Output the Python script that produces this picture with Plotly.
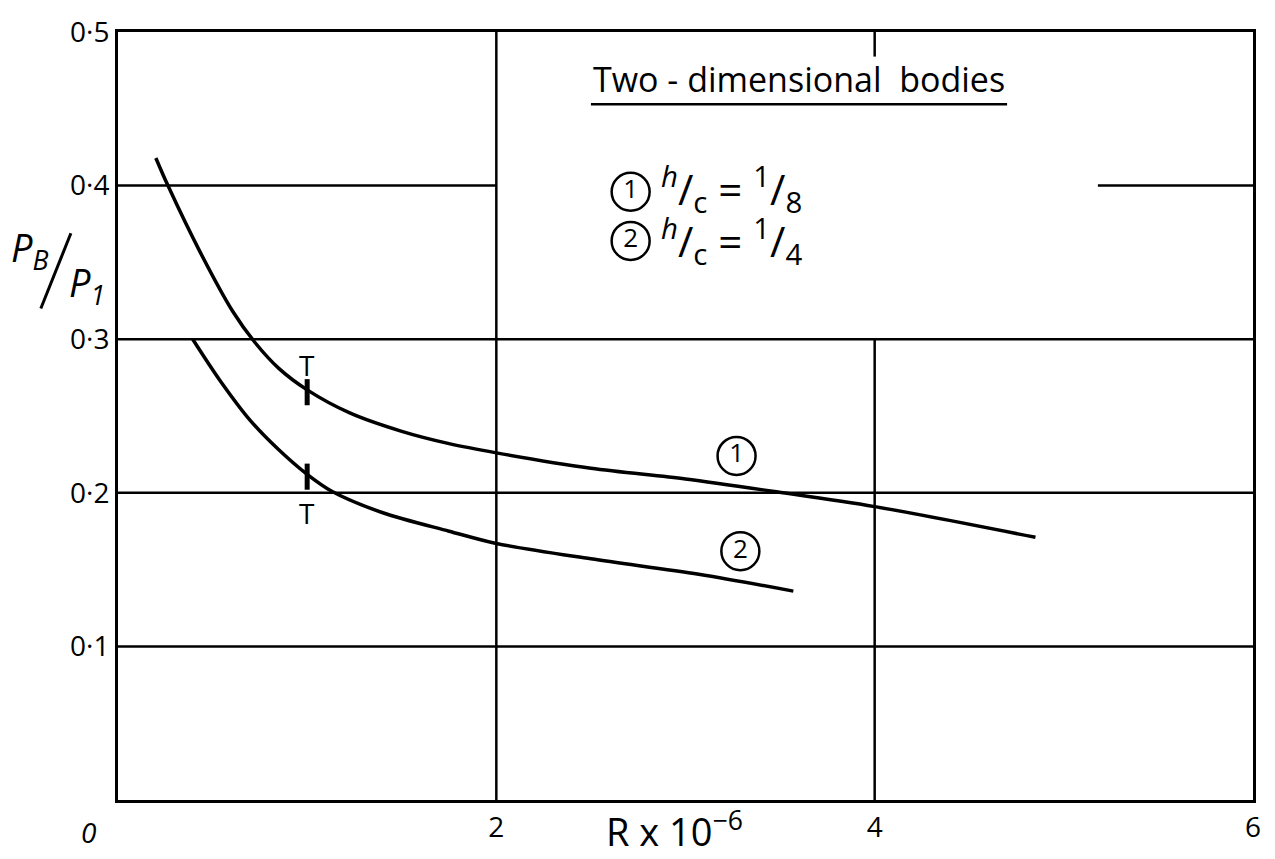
import plotly.graph_objects as go

# Base pressure ratio against Reynolds number, two-dimensional bodies
curve1_R = [0.20, 0.264, 0.433, 0.607, 0.723, 0.85, 1.0, 1.225, 1.5, 1.75, 2.0, 2.5, 3.0, 3.46, 4.0, 4.85]
curve1_p = [0.418, 0.400, 0.357, 0.318, 0.298, 0.281, 0.267, 0.252, 0.240, 0.232, 0.226, 0.216, 0.209, 0.201, 0.191, 0.171]

curve2_R = [0.395, 0.54, 0.70, 0.85, 1.0, 1.13, 1.40, 1.75, 2.0, 2.5, 3.07, 3.57]
curve2_p = [0.300, 0.273, 0.247, 0.228, 0.212, 0.201, 0.187, 0.175, 0.167, 0.157, 0.147, 0.136]

# transition marks (T) on each curve
transition_R = [1.0, 1.0]
transition_p = [0.267, 0.212]

x_ticks = [2, 4, 6]
x_tick_text = ["2", "4", "6"]
y_ticks = [0.1, 0.2, 0.3, 0.4, 0.5]
y_tick_text = ["0·1", "0·2", "0·3", "0·4", "0·5"]

FONT = "Open Sans"
INK = "black"

fig = go.Figure()

# grid lines (some are broken where the key text sits)
grid_segments = [
    ([0, 6], [0.1, 0.1]),
    ([0, 6], [0.2, 0.2]),
    ([0, 6], [0.3, 0.3]),
    ([0, 2], [0.4, 0.4]),
    ([5.18, 6], [0.4, 0.4]),
    ([2, 2], [0, 0.5]),
    ([4, 4], [0, 0.3]),
    ([4, 4], [0.484, 0.5]),
]
for gx, gy in grid_segments:
    fig.add_trace(go.Scatter(x=gx, y=gy, mode="lines",
                             line=dict(color=INK, width=2.5),
                             hoverinfo="skip", showlegend=False))

for xs, ys in [(curve1_R, curve1_p), (curve2_R, curve2_p)]:
    fig.add_trace(go.Scatter(x=xs, y=ys, mode="lines",
                             line=dict(color=INK, width=3.5, shape="spline", smoothing=0.9),
                             showlegend=False))

# short bars marking transition
for tx, ty in zip(transition_R, transition_p):
    fig.add_trace(go.Scatter(x=[tx, tx], y=[ty - 0.010, ty + 0.007], mode="lines",
                             line=dict(color=INK, width=5),
                             showlegend=False))

fig.add_annotation(x=transition_R[0], y=transition_p[0] + 0.016, text="T",
                   showarrow=False, font=dict(family=FONT, size=28, color=INK))
fig.add_annotation(x=transition_R[1], y=transition_p[1] - 0.025, text="T",
                   showarrow=False, font=dict(family=FONT, size=28, color=INK))

# circled curve numbers
circle_R = [3.27, 3.29, 2.71, 2.71]
circle_p = [0.224, 0.162, 0.396, 0.364]
circle_txt = ["1", "2", "1", "2"]
fig.add_trace(go.Scatter(x=circle_R, y=circle_p, mode="markers+text", text=circle_txt,
                         textposition="middle center",
                         textfont=dict(family=FONT, size=26, color=INK),
                         marker=dict(symbol="circle-open", size=38, color=INK, line=dict(width=2.5)),
                         showlegend=False))

# key
fig.add_annotation(x=3.6, y=0.4696, text="Two - dimensional&nbsp;&nbsp;bodies",
                   showarrow=False, font=dict(family=FONT, size=34, color=INK))
fig.add_shape(type="line", x0=2.5, x1=4.70, y0=0.453, y1=0.453, line=dict(color=INK, width=2.5))
fig.add_annotation(x=2.86, y=0.398, xanchor="left",
                   text="<sup><i>h</i></sup>/<sub>c</sub> = <sup>1</sup>/<sub>8</sub>",
                   showarrow=False, font=dict(family=FONT, size=42, color=INK))
fig.add_annotation(x=2.86, y=0.364, xanchor="left",
                   text="<sup><i>h</i></sup>/<sub>c</sub> = <sup>1</sup>/<sub>4</sub>",
                   showarrow=False, font=dict(family=FONT, size=42, color=INK))

# y-axis title: P_B / P_1 with a long slash
fig.add_annotation(xref="paper", yref="paper", x=-0.096, y=0.757, text="<i>P<sub>B</sub></i>",
                   showarrow=False, font=dict(family=FONT, size=38, color=INK))
fig.add_shape(type="line", xref="paper", yref="paper", x0=-0.068, y0=0.640, x1=-0.0415, y1=0.738,
              line=dict(color=INK, width=3))
fig.add_annotation(xref="paper", yref="paper", x=-0.045, y=0.711, text="<i>P<sub>1</sub></i>",
                   showarrow=False, font=dict(family=FONT, size=38, color=INK))

fig.add_annotation(x=2.94, y=0, yshift=-29, text="R x 10<sup>−6</sup>", showarrow=False,
                   font=dict(family=FONT, size=38, color=INK))
fig.add_annotation(x=0, y=0, xshift=-30, yshift=-32, text="<i>0</i>", showarrow=False,
                   font=dict(family=FONT, size=28, color=INK))

fig.update_xaxes(range=[0, 6], tickvals=x_ticks, ticktext=x_tick_text, showgrid=False,
                 zeroline=False, showline=True, mirror=True, linecolor=INK, linewidth=3,
                 ticks="", tickfont=dict(family=FONT, size=28, color=INK))
fig.update_yaxes(range=[0, 0.5], tickvals=y_ticks, ticktext=y_tick_text, showgrid=False,
                 zeroline=False, showline=True, mirror=True, linecolor=INK, linewidth=3,
                 ticks="", tickfont=dict(family=FONT, size=28, color=INK))

fig.update_layout(width=1275, height=859, margin=dict(l=118, r=22, t=28, b=59),
                  paper_bgcolor="white", plot_bgcolor="white", showlegend=False)

fig.write_html("out.html")
